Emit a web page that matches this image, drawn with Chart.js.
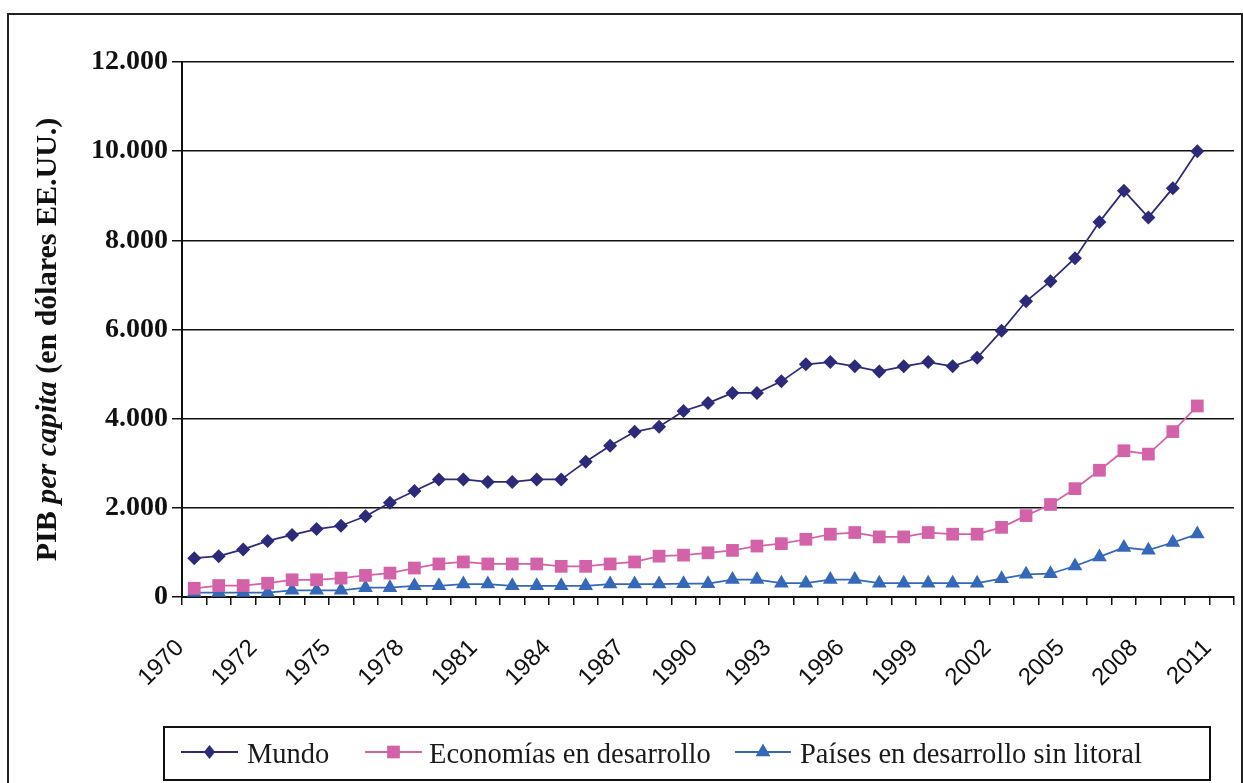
<!DOCTYPE html>
<html>
<head>
<meta charset="utf-8">
<script src="https://cdn.jsdelivr.net/npm/chart.js@4/dist/chart.umd.min.js"></script>
<style>
  html, body { margin: 0; padding: 0; background: #fff; }
  #wrap { position: relative; width: 1243px; height: 783px; }
  canvas { display: block; }
</style>
</head>
<body>
<div id="wrap"><canvas id="c" width="1243" height="783"></canvas></div>
<script>
const categories = ['1970','1971','1972','1973','1974','1975','1976','1977','1978','1979',
  '1980','1981','1982','1983','1984','1985','1986','1987','1988','1989',
  '1990','1991','1992','1993','1994','1995','1996','1997','1998','1999',
  '2000','2001','2002','2003','2004','2005','2006','2007','2008','2009',
  '2010','2011',''];
const tickLabels = ['1970','1972','1975','1978','1981','1984','1987','1990','1993','1996','1999','2002','2005','2008','2011'];

const mundo = [870, 916, 1068, 1257, 1393, 1523, 1598, 1810, 2114, 2377,
  2636, 2636, 2582, 2582, 2636, 2636, 3036, 3393, 3705, 3818,
  4172, 4350, 4578, 4578, 4837, 5218, 5270, 5173, 5059, 5173,
  5270, 5173, 5364, 5970, 6633, 7085, 7600, 8414, 9114, 8514,
  9170, 10000];
const economias = [195, 257, 257, 309, 386, 386, 424, 484, 536, 650,
  741, 786, 741, 741, 741, 688, 688, 741, 786, 916,
  939, 991, 1045, 1143, 1196, 1295, 1409, 1446, 1348, 1348,
  1446, 1409, 1409, 1562, 1826, 2075, 2430, 2843, 3280, 3205,
  3710, 4285];
const paises = [100, 100, 100, 100, 150, 150, 150, 210, 210, 250,
  250, 290, 290, 250, 250, 250, 250, 290, 290, 290,
  300, 300, 390, 390, 310, 310, 390, 390, 310, 310,
  310, 310, 310, 410, 508, 522, 696, 900, 1110, 1050,
  1222, 1412];

const seriesNames = ['Mundo', 'Economías en desarrollo', 'Países en desarrollo sin litoral'];
const yTicks = { min: 0, max: 12000, step: 2000 };

const COL_MUNDO = '#2D2A7A';
const COL_ECON = '#D462A8';
const COL_PAIS = '#3568B8';

function fmtThousands(v) {
  return String(v).replace(/\B(?=(\d{3})+(?!\d))/g, '.');
}

function drawMarker(ctx, style, x, y, r, color) {
  ctx.save();
  ctx.fillStyle = color;
  ctx.beginPath();
  if (style === 'rectRot') {
    ctx.moveTo(x, y - r); ctx.lineTo(x + r * 0.8, y); ctx.lineTo(x, y + r); ctx.lineTo(x - r * 0.8, y);
  } else if (style === 'rect') {
    const s = r * Math.SQRT1_2;
    ctx.rect(x - s, y - s, 2 * s, 2 * s);
  } else if (style === 'triangle') {
    ctx.moveTo(x, y - r);
    ctx.lineTo(x + Math.cos(Math.PI / 6) * r, y + Math.sin(Math.PI / 6) * r);
    ctx.lineTo(x - Math.cos(Math.PI / 6) * r, y + Math.sin(Math.PI / 6) * r);
  }
  ctx.closePath();
  ctx.fill();
  ctx.restore();
}

const decorPlugin = {
  id: 'decor',
  afterDraw(chart) {
    const ctx = chart.ctx;
    const ca = chart.chartArea;
    ctx.save();
    // outer frame
    ctx.strokeStyle = '#222';
    ctx.lineWidth = 2;
    ctx.strokeRect(8, 14, 1234, 800);

    // y axis title with mixed styles
    const fam = '"Liberation Serif", "Times New Roman", serif';
    const parts = [
      { t: 'PIB ', f: 'bold 30px ' + fam },
      { t: 'per capita', f: 'italic bold 30px ' + fam },
      { t: ' (en dólares EE.UU.)', f: 'bold 30px ' + fam }
    ];
    let total = 0;
    parts.forEach(p => { ctx.font = p.f; p.w = ctx.measureText(p.t).width; total += p.w; });
    ctx.translate(48, (ca.top + ca.bottom) / 2 + 10);
    ctx.rotate(-Math.PI / 2);
    ctx.fillStyle = '#111';
    ctx.textBaseline = 'middle';
    ctx.textAlign = 'left';
    let x = -total / 2;
    parts.forEach(p => { ctx.font = p.f; ctx.fillText(p.t, x, 0); x += p.w; });
    ctx.restore();

    // legend box
    ctx.save();
    const lx = 164, ly = 727, lw = 1046, lh = 53;
    ctx.strokeStyle = '#111';
    ctx.lineWidth = 2;
    ctx.strokeRect(lx, ly, lw, lh);
    const items = [
      { name: seriesNames[0], color: COL_MUNDO, style: 'rectRot', r: 7, x0: 181, x1: 238, tx: 247 },
      { name: seriesNames[1], color: COL_ECON, style: 'rect', r: 9, x0: 365, x1: 422, tx: 429 },
      { name: seriesNames[2], color: COL_PAIS, style: 'triangle', r: 8.5, x0: 735, x1: 791, tx: 800 }
    ];
    const cy = 752;
    items.forEach(it => {
      ctx.strokeStyle = it.color;
      ctx.lineWidth = 2;
      ctx.beginPath();
      ctx.moveTo(it.x0, cy); ctx.lineTo(it.x1, cy); ctx.stroke();
      drawMarker(ctx, it.style, (it.x0 + it.x1) / 2, cy, it.r, it.color);
      ctx.fillStyle = '#1a1a1a';
      ctx.font = '28.5px ' + fam;
      ctx.textBaseline = 'alphabetic';
      ctx.textAlign = 'left';
      ctx.fillText(it.name, it.tx, 763);
    });
    ctx.restore();
  }
};

const ctx = document.getElementById('c').getContext('2d');
new Chart(ctx, {
  type: 'line',
  data: {
    labels: categories,
    datasets: [
      { label: seriesNames[0], data: mundo, borderColor: COL_MUNDO, backgroundColor: COL_MUNDO,
        borderWidth: 1.75, pointStyle: 'rectRot', pointRadius: 7, pointBorderWidth: 0, tension: 0 },
      { label: seriesNames[1], data: economias, borderColor: COL_ECON, backgroundColor: COL_ECON,
        borderWidth: 1.75, pointStyle: 'rect', pointRadius: 9, pointBorderWidth: 0, tension: 0 },
      { label: seriesNames[2], data: paises, borderColor: COL_PAIS, backgroundColor: COL_PAIS,
        borderWidth: 1.75, pointStyle: 'triangle', pointRadius: 8.5, pointBorderWidth: 0, tension: 0 }
    ]
  },
  options: {
    responsive: false,
    animation: false,
    devicePixelRatio: 1,
    layout: { padding: { top: 62, right: 9, left: 0, bottom: 0 } },
    plugins: { legend: { display: false }, tooltip: { enabled: false } },
    scales: {
      x: {
        type: 'category',
        offset: true,
        afterFit(scale) { scale.height = 186; scale.paddingLeft = 0; scale.paddingRight = 0; },
        grid: { offset: true, drawOnChartArea: false, drawTicks: true, tickLength: 8, color: '#111', lineWidth: 1.5 },
        border: { display: true, color: '#111', width: 2 },
        ticks: {
          autoSkip: false,
          maxRotation: 45, minRotation: 45,
          padding: 29,
          labelOffset: -14,
          color: '#111',
          font: { family: '"Liberation Sans", Arial, sans-serif', size: 24 },
          callback(val, idx) { return idx % 3 === 0 ? tickLabels[idx / 3] : ''; }
        }
      },
      y: {
        min: yTicks.min, max: yTicks.max,
        afterFit(scale) { scale.width = 182; },
        grid: { color: '#111', lineWidth: 1.5, drawTicks: true, tickLength: 10 },
        border: { display: true, color: '#111', width: 2 },
        ticks: {
          stepSize: yTicks.step,
          padding: 4,
          color: '#111',
          font: { family: '"Liberation Serif", "Times New Roman", serif', size: 28, weight: 'bold' },
          callback(v) { return fmtThousands(v); }
        }
      }
    }
  },
  plugins: [decorPlugin]
});
</script>
</body>
</html>
